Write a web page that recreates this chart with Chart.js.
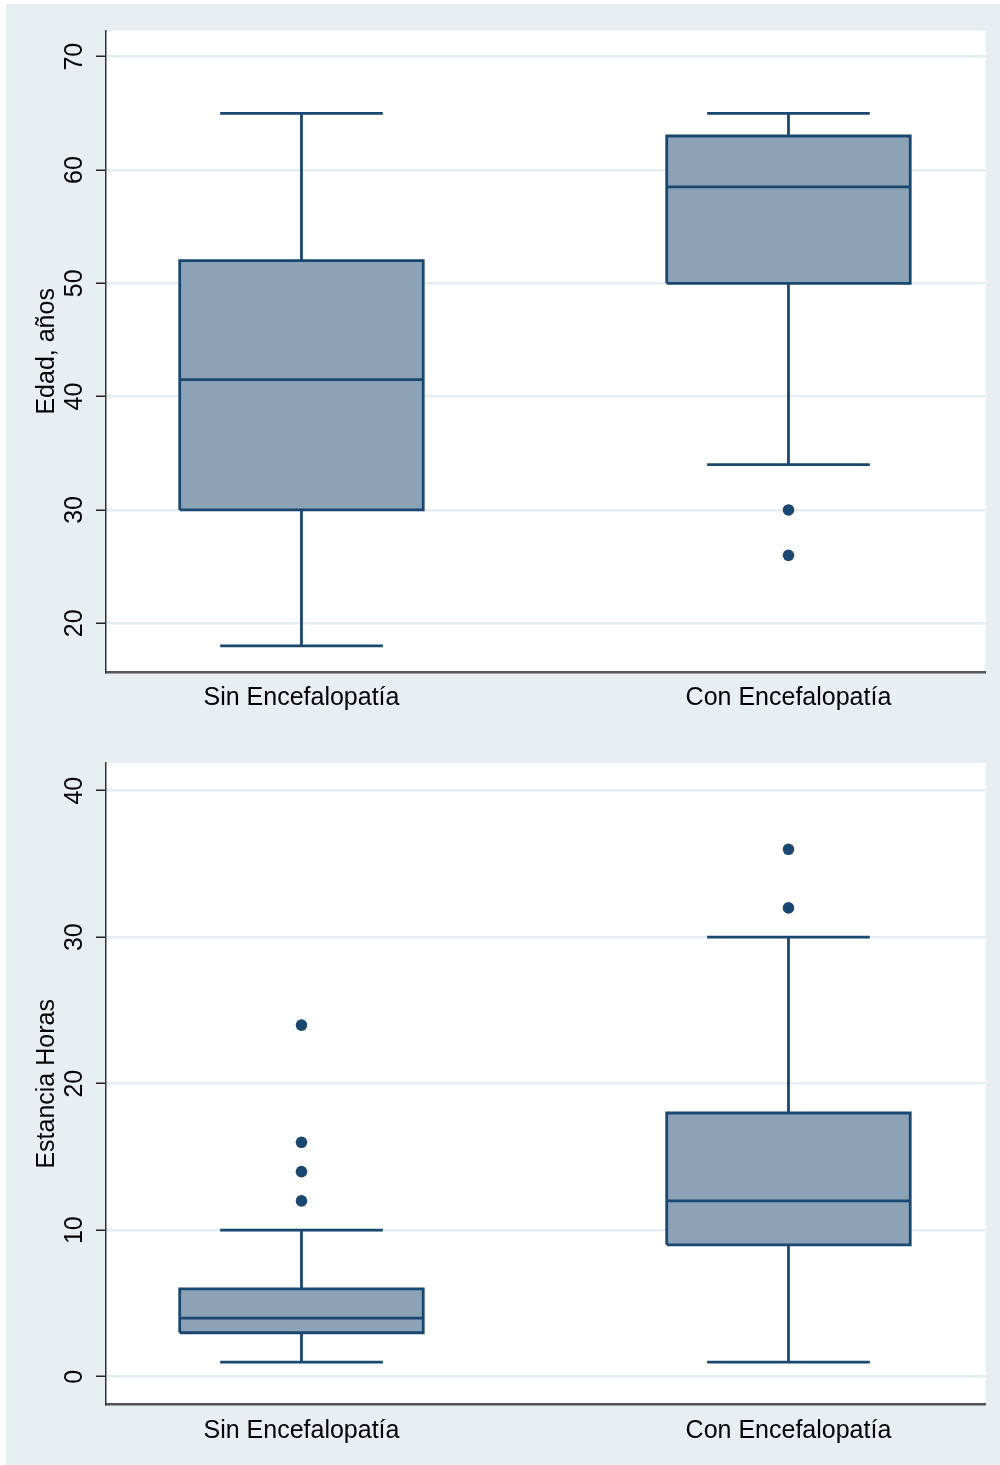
<!DOCTYPE html>
<html>
<head>
<meta charset="utf-8">
<script src="https://cdn.jsdelivr.net/npm/chart.js@4/dist/chart.umd.min.js"></script>
<style>
  html, body { margin: 0; padding: 0; background: #ffffff; }
  #page { position: absolute; left: 6px; top: 4px; width: 994px; height: 1461px; background: #e8eff2; }
  .panel { position: absolute; left: 0; width: 994px; }
  #panelEdad { top: 0; height: 731px; }
  #panelHoras { top: 731px; height: 730px; }
</style>
</head>
<body>
<div id="page">
  <div class="panel" id="panelEdad"><canvas id="chartEdad"></canvas></div>
  <div class="panel" id="panelHoras"><canvas id="chartHoras"></canvas></div>
</div>
<script>
// groups
const categories = ['Sin Encefalopatía', 'Con Encefalopatía'];

// Edad, años
const edadMin = [18, 34];
const edadQ1 = [30, 50];
const edadMedian = [41.5, 58.5];
const edadQ3 = [52, 63];
const edadMax = [65, 65];
const edadOutliers = [[], [30, 26]];
const edadTicks = [20, 30, 40, 50, 60, 70];

// Estancia Horas
const horasMin = [1, 1];
const horasQ1 = [3, 9];
const horasMedian = [4, 12];
const horasQ3 = [6, 18];
const horasMax = [10, 30];
const horasOutliers = [[24, 16, 14, 12], [36, 32]];
const horasTicks = [0, 10, 20, 30, 40];

const NAVY = '#1a476f';
const BOX_FILL = '#8ca3b7';
const FONT = "'Liberation Sans', Arial, sans-serif";
const BOX_HALF = 0.25;
const CAP_HALF = 0.167;

function lineSet(points, extra) {
  return Object.assign({
    type: 'scatter',
    data: points,
    showLine: true,
    borderColor: NAVY,
    borderWidth: 2.8,
    pointRadius: 0,
    pointHoverRadius: 0,
    tension: 0,
    fill: false
  }, extra || {});
}

function buildDatasets(mins, q1s, meds, q3s, maxs, outs) {
  const sets = [];
  categories.forEach((c, i) => {
    const x = i + 1;
    // box
    sets.push(lineSet([
      { x: x - BOX_HALF, y: q1s[i] }, { x: x + BOX_HALF, y: q1s[i] },
      { x: x + BOX_HALF, y: q3s[i] }, { x: x - BOX_HALF, y: q3s[i] },
      { x: x - BOX_HALF, y: q1s[i] }
    ], { fill: 'shape', backgroundColor: BOX_FILL, borderJoinStyle: 'miter', order: 1 }));
    // median
    sets.push(lineSet([{ x: x - BOX_HALF, y: meds[i] }, { x: x + BOX_HALF, y: meds[i] }], { order: 0 }));
    // whiskers
    sets.push(lineSet([
      { x: x, y: q3s[i] }, { x: x, y: maxs[i] },
      { x: x - CAP_HALF, y: maxs[i] }, { x: x + CAP_HALF, y: maxs[i] }
    ], { order: 2 }));
    sets.push(lineSet([
      { x: x, y: q1s[i] }, { x: x, y: mins[i] },
      { x: x - CAP_HALF, y: mins[i] }, { x: x + CAP_HALF, y: mins[i] }
    ], { order: 2 }));
    // outside values
    sets.push({
      type: 'scatter',
      data: outs[i].map(v => ({ x: x, y: v })),
      pointRadius: 5.8,
      pointBackgroundColor: NAVY,
      pointBorderColor: NAVY,
      pointBorderWidth: 0,
      order: 0
    });
  });
  return sets;
}

const plotBg = {
  id: 'plotBg',
  beforeDraw(chart) {
    const { ctx, chartArea } = chart;
    ctx.save();
    ctx.fillStyle = '#ffffff';
    ctx.fillRect(chartArea.left, chartArea.top, chartArea.right - chartArea.left, chartArea.bottom - chartArea.top);
    ctx.restore();
  }
};

function makeChart(id, title, sets, ticks, yMin, yMax, padTop, xHeight) {
  new Chart(document.getElementById(id), {
    type: 'scatter',
    data: { datasets: sets },
    options: {
      responsive: true,
      maintainAspectRatio: false,
      animation: false,
      layout: { padding: { top: padTop, right: 14.3, left: 0, bottom: 0 } },
      plugins: { legend: { display: false }, tooltip: { enabled: false } },
      scales: {
        x: {
          type: 'linear',
          min: 0.5986,
          max: 2.405,
          afterBuildTicks: (s) => { s.ticks = categories.map((c, i) => ({ value: i + 1 })); },
          afterFit: (s) => { s.height = xHeight; },
          ticks: {
            callback: (v) => categories[v - 1],
            font: { family: FONT, size: 25 },
            color: '#000000',
            padding: 11,
            maxRotation: 0
          },
          grid: { display: false, drawTicks: false },
          border: { display: true, color: '#555555', width: 2.5 }
        },
        y: {
          min: yMin,
          max: yMax,
          afterBuildTicks: (s) => { s.ticks = ticks.map(v => ({ value: v })); },
          afterFit: (s) => { s.width = 100; },
          ticks: {
            font: { family: FONT, size: 25 },
            color: '#000000',
            minRotation: 90,
            maxRotation: 90,
            crossAlign: 'center',
            padding: 7
          },
          grid: { color: '#e6edf1', lineWidth: 2.5, tickLength: 10, tickColor: '#222222', tickWidth: 1.5 },
          border: { color: '#333333', width: 1.5 },
          title: {
            display: true,
            text: title,
            font: { family: FONT, size: 25 },
            color: '#000000',
            padding: { top: 26, bottom: 0 }
          }
        }
      }
    },
    plugins: [plotBg]
  });
}

makeChart('chartEdad', 'Edad, años',
  buildDatasets(edadMin, edadQ1, edadMedian, edadQ3, edadMax, edadOutliers),
  edadTicks, 15.7, 72.29, 26.7, 63);
makeChart('chartHoras', 'Estancia Horas',
  buildDatasets(horasMin, horasQ1, horasMedian, horasQ3, horasMax, horasOutliers),
  horasTicks, -1.91, 41.89, 28, 60.3);
</script>
</body>
</html>
